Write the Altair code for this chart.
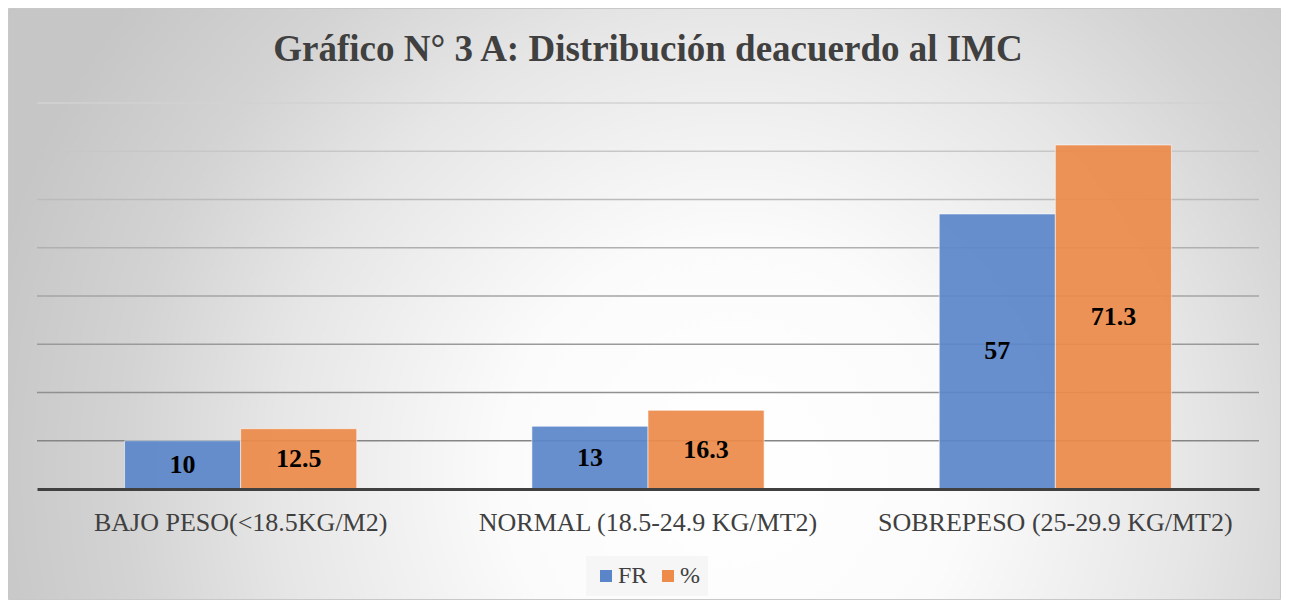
import altair as alt
import pandas as pd

# ---- data ----
categorias = ["BAJO PESO(<18.5KG/M2)", "NORMAL (18.5-24.9 KG/MT2)", "SOBREPESO (25-29.9 KG/MT2)"]
series = ["FR", "%"]
valores_fr = [10, 13, 57]
valores_pct = [12.5, 16.3, 71.3]
lineas_guia = [10, 20, 30, 40, 50, 60, 70, 80]
colores = ["#5b85c9", "#ec8b4a"]
titulo = "Gráfico N° 3 A: Distribución deacuerdo al IMC"

rows = []
for c, f, p in zip(categorias, valores_fr, valores_pct):
    rows.append({"cat": c, "serie": "FR", "valor": f})
    rows.append({"cat": c, "serie": "%", "valor": p})
df = pd.DataFrame(rows)
grid_df = pd.DataFrame({"g": lineas_guia})

# ---- layout ----
W, H = 1222, 386
PAD = {"left": 29, "top": 95, "right": 22, "bottom": 111}
FONT = "Liberation Serif"
YSCALE = alt.Scale(domain=[0, 80])

gradient = {
    "gradient": "radial",
    "x1": 0.57, "y1": 0.63, "r1": 0,
    "x2": 0.57, "y2": 0.63, "r2": 0.6,
    "stops": [
        {"offset": 0.0, "color": "#ffffff"},
        {"offset": 0.3, "color": "#fbfbfb"},
        {"offset": 0.6, "color": "#e6e6e6"},
        {"offset": 0.8, "color": "#d3d3d3"},
        {"offset": 1.0, "color": "#c6c6c6"},
    ],
}

bg = alt.Chart(pd.DataFrame({"a": [0]})).mark_rect(
    fill=gradient, stroke="#c8c8c8", strokeWidth=1
).encode(
    x=alt.value(-PAD["left"] + 0.5),
    x2=alt.value(W + PAD["right"] - 0.5),
    y=alt.value(-PAD["top"] + 0.5),
    y2=alt.value(H + PAD["bottom"] - 0.5),
)

grid = alt.Chart(grid_df).mark_rule(strokeWidth=1.3).encode(
    y=alt.Y("g:Q", scale=YSCALE, axis=None),
    color=alt.Color("g:Q", scale=alt.Scale(domain=[10, 80], range=["#858585", "#d2d2d2"]), legend=None),
)

x_axis = alt.Axis(
    title=None, labelAngle=0, labelFont=FONT, labelFontSize=26, labelColor="#404040",
    domainColor="#404040", domainWidth=3, ticks=False, tickSize=0, labelPadding=20,
    zindex=1, grid=False, labelLimit=0,
)
x_enc = alt.X("cat:N", sort=categorias,
              scale=alt.Scale(paddingInner=0.43, paddingOuter=0.215), axis=x_axis)
xo_enc = alt.XOffset("serie:N", sort=series, scale=alt.Scale(paddingInner=0))

bars = alt.Chart(df).mark_bar(
    fillOpacity=0.93, stroke="white", strokeOpacity=0.55, strokeWidth=1
).encode(
    x=x_enc,
    xOffset=xo_enc,
    y=alt.Y("valor:Q", scale=YSCALE, axis=None),
    color=alt.Color(
        "serie:N", sort=series,
        scale=alt.Scale(domain=series, range=colores),
        legend=alt.Legend(
            title=None, orient="none", legendX=549, legendY=453, direction="horizontal",
            symbolType="square", symbolSize=144, symbolStrokeWidth=0, symbolOpacity=1,
            labelFont=FONT, labelFontSize=24, labelColor="#404040", labelOffset=0,
            columnPadding=8, fillColor="#f6f6f6", padding=8, labelLimit=0,
        ),
    ),
)

labels = alt.Chart(df).transform_calculate(mid="datum.valor / 2").mark_text(
    font=FONT, fontSize=26, fontWeight="bold", color="black", baseline="middle", align="center"
).encode(
    x=x_enc,
    xOffset=xo_enc,
    y=alt.Y("mid:Q", scale=YSCALE, axis=None),
    text=alt.Text("valor:Q"),
)

chart = alt.layer(bg, grid, bars, labels).resolve_scale(color="independent").properties(
    width=W, height=H,
    autosize=alt.AutoSizeParams(type="none"),
    padding=PAD,
    title=alt.Title(
        text=titulo, font=FONT, fontSize=37, fontWeight="bold", color="#404040",
        anchor="middle", offset=-90, baseline="alphabetic",
    ),
).configure_view(strokeWidth=0)

chart.save("out.html", embed_options={"renderer": "svg", "actions": False})
